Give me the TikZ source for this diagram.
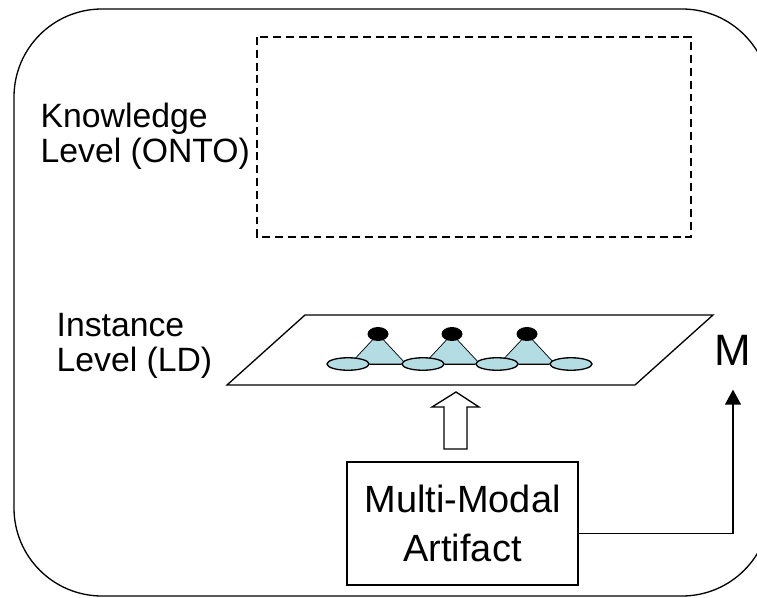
\documentclass[tikz,border=0pt]{standalone}
\usepackage{fontspec}
\setmainfont{Liberation Sans}
\usetikzlibrary{arrows.meta,backgrounds,shapes.geometric}
\definecolor{instblue}{HTML}{B4DCE3}

\begin{document}
\begin{tikzpicture}[x=0.02cm, y=-0.02cm, line width=0.75pt]
  \tikzset{
    lbl/.style={align=left, inner sep=0pt, anchor=north west, font=\fontsize{19.2}{19.9}\selectfont},
    big/.style={font=\fontsize{21.6}{27.9}\selectfont},
    leaf/.style={ellipse, draw, fill=instblue, minimum width=0.84cm, minimum height=0.25cm, inner sep=0pt},
    root/.style={ellipse, fill=black, minimum width=0.42cm, minimum height=0.28cm, inner sep=0pt}
  }
  \useasboundingbox (0,0) rectangle (757,598);
  \clip (0,0) rectangle (757,598);
  \draw[rounded corners=1.76cm] (14,9) rectangle (770,596);
  \draw[dash pattern=on 4.5pt off 2.8pt] (257,37) rectangle (691,237);
  \node[lbl] (onto) at (40,102) {Knowledge\\Level (ONTO)};
  \node[lbl] (ld) at (56,313) {Instance\\Level (LD)};
  \draw (227,385) -- (635,385) -- (713,315) -- (305,315) -- cycle;
  \node[leaf] (e1) at (348,364) {};
  \node[leaf] (e2) at (423,364) {};
  \node[leaf] (e3) at (497,364) {};
  \node[leaf] (e4) at (571,364) {};
  \node[root] (d1) at (378,334) {};
  \node[root] (d2) at (452,334) {};
  \node[root] (d3) at (527,334) {};
  \begin{scope}[on background layer]
    \foreach \i in {1,2,3}
      \filldraw[fill=instblue] (d\i.center) -- ++(-28,30) -- ++(56,0) -- cycle;
    \draw (e1) -- (e2) -- (e3) -- (e4);
  \end{scope}
  \node[draw, big, align=center, minimum width=4.62cm, minimum height=2.46cm] (mma) at (462.5,523.5) {Multi-Modal\\Artifact};
  \draw (444,449) -- (444,407) -- (432,407) -- (456,392) -- (479,407) -- (467,407) -- (467,449) -- cycle;
  \node[font=\fontsize{25}{30}\selectfont, inner sep=0pt, anchor=base] (m) at (733,365) {M};
  \draw[-{Triangle[width=0.32cm,length=0.3cm]}] ([yshift=-0.2cm]mma.east) -| ([yshift=-0.48cm]m.south);
\end{tikzpicture}
\end{document}
